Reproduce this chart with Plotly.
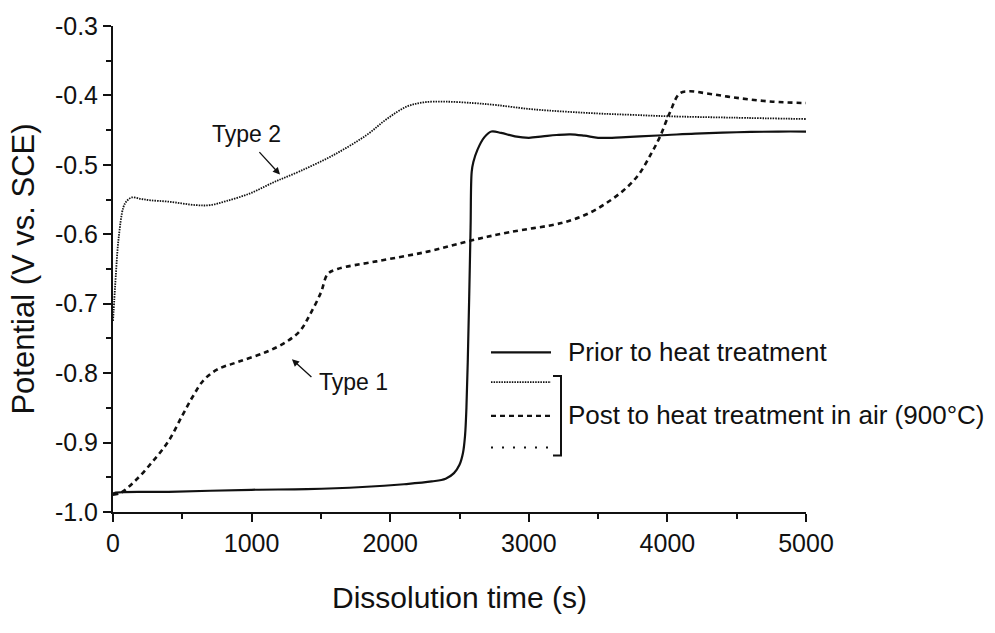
import plotly.graph_objects as go

# Open-circuit potential vs. dissolution time
# Prior to heat treatment (solid)
prior_t = [0, 5, 400, 1000, 1400, 1800, 2100, 2300, 2400, 2460, 2500, 2525, 2540, 2550,
           2560, 2570, 2580, 2588, 2600, 2630, 2680, 2730, 2800, 2900, 3000, 3100, 3200,
           3300, 3400, 3500, 3600, 3700, 3800, 4000, 4200, 4500, 4800, 5000]
prior_v = [-0.975, -0.973, -0.971, -0.968, -0.967, -0.964, -0.960, -0.956, -0.952, -0.944,
           -0.932, -0.915, -0.890, -0.850, -0.780, -0.690, -0.590, -0.510, -0.496, -0.478,
           -0.460, -0.452, -0.454, -0.459, -0.461, -0.459, -0.457, -0.456, -0.458, -0.461,
           -0.461, -0.460, -0.459, -0.457, -0.455, -0.453, -0.452, -0.452]

# Post heat treatment in air (900 °C), Type 2 (fine dotted)
type2_t = [0, 10, 20, 40, 75, 100, 135, 200, 270, 400, 600, 700, 820, 990, 1160, 1350,
           1590, 1830, 1975, 2120, 2240, 2400, 2600, 2770, 3030, 3500, 3750, 4000, 4470, 5000]
type2_v = [-0.725, -0.692, -0.660, -0.607, -0.561, -0.552, -0.547, -0.549, -0.551, -0.553,
           -0.558, -0.558, -0.552, -0.541, -0.525, -0.509, -0.486, -0.457, -0.434, -0.416,
           -0.410, -0.409, -0.411, -0.414, -0.420, -0.426, -0.428, -0.430, -0.432, -0.434]

# Post heat treatment in air (900 °C), Type 1 (dashed)
type1_t = [0, 50, 150, 275, 400, 500, 575, 650, 750, 900, 1100, 1250, 1350, 1420, 1500,
           1550, 1620, 1900, 2270, 2583, 2860, 3250, 3440, 3590, 3710, 3800, 3880, 3945,
           4017, 4089, 4160, 4280, 4520, 4760, 5000]
type1_v = [-0.975, -0.973, -0.957, -0.930, -0.898, -0.861, -0.834, -0.811, -0.795, -0.784,
           -0.770, -0.755, -0.739, -0.716, -0.684, -0.657, -0.650, -0.639, -0.625, -0.609,
           -0.597, -0.583, -0.569, -0.551, -0.532, -0.512, -0.485, -0.460, -0.425, -0.397,
           -0.394, -0.397, -0.404, -0.409, -0.411]

x_ticks = [0, 1000, 2000, 3000, 4000, 5000]
x_tick_text = ["0", "1000", "2000", "3000", "4000", "5000"]
x_minor = [500, 1500, 2500, 3500, 4500]
y_ticks = [-1.0, -0.9, -0.8, -0.7, -0.6, -0.5, -0.4, -0.3]
y_tick_text = ["-1.0", "-0.9", "-0.8", "-0.7", "-0.6", "-0.5", "-0.4", "-0.3"]
y_minor = [-0.95, -0.85, -0.75, -0.65, -0.55, -0.45, -0.35]

legend_prior = "Prior to heat treatment"
legend_post = "Post to heat treatment in air (900°C)"

FONT = "Arial, Liberation Sans, sans-serif"
BLACK = "#111111"

STYLE_PRIOR = dict(color=BLACK, width=2.2, dash="solid")
STYLE_TYPE2 = dict(color=BLACK, width=1.8, dash="1.5px,1.1px")
STYLE_TYPE1 = dict(color=BLACK, width=2.6, dash="5px,4px")
STYLE_OTHER = dict(color=BLACK, width=2.0, dash="2px,9px")

fig = go.Figure()
fig.add_trace(go.Scatter(x=prior_t, y=prior_v, mode="lines", line_shape="spline",
                         line=STYLE_PRIOR, showlegend=False))
fig.add_trace(go.Scatter(x=type2_t, y=type2_v, mode="lines", line_shape="spline",
                         line=STYLE_TYPE2, showlegend=False))
fig.add_trace(go.Scatter(x=type1_t, y=type1_v, mode="lines", line_shape="spline",
                         line=STYLE_TYPE1, showlegend=False))

axis_common = dict(
    showline=True, linecolor=BLACK, linewidth=2, mirror=False, showgrid=False,
    zeroline=False, ticks="outside", ticklen=8, tickwidth=2, tickcolor=BLACK,
    tickfont=dict(family=FONT, size=25, color=BLACK),
)

fig.update_layout(
    width=995, height=633,
    margin=dict(l=113, r=189, t=22, b=121),
    paper_bgcolor="white", plot_bgcolor="white",
    font=dict(family=FONT, color=BLACK),
    xaxis=dict(
        range=[0, 5000], tickmode="array", tickvals=x_ticks, ticktext=x_tick_text,
        minor=dict(ticks="outside", ticklen=5, tickwidth=2, tickcolor=BLACK,
                   tickmode="array", tickvals=x_minor),
        title=dict(text="Dissolution time (s)", font=dict(family=FONT, size=30, color=BLACK),
                   standoff=31),
        **axis_common,
    ),
    yaxis=dict(
        range=[-1.0, -0.3], tickmode="array", tickvals=y_ticks, ticktext=y_tick_text,
        minor=dict(ticks="outside", ticklen=5, tickwidth=2, tickcolor=BLACK,
                   tickmode="array", tickvals=y_minor),
        title=dict(text="Potential (V vs. SCE)", font=dict(family=FONT, size=31, color=BLACK),
                   standoff=11),
        **axis_common,
    ),
)

# Curve labels with arrows
fig.add_annotation(x=1205, y=-0.514, ax=-22, ay=-24, text="", showarrow=True,
                   arrowhead=2, arrowsize=1.1, arrowwidth=1.3, arrowcolor=BLACK)
fig.add_annotation(x=1205, y=-0.514, text="Type 2", showarrow=False,
                   xshift=-34, yshift=41, font=dict(family=FONT, size=23, color=BLACK))
fig.add_annotation(x=1291, y=-0.780, ax=21, ay=19, text="", showarrow=True,
                   arrowhead=2, arrowsize=1.1, arrowwidth=1.3, arrowcolor=BLACK)
fig.add_annotation(x=1291, y=-0.780, text="Type 1", showarrow=False, xanchor="left",
                   xshift=25, yshift=-23, font=dict(family=FONT, size=23, color=BLACK))

# Legend drawn in paper coordinates
W, H = 995 - 113 - 189, 633 - 22 - 121
def px(xp):
    return (xp - 113) / W
def py(yp):
    return (633 - 121 - yp) / H

samples = [
    (351, STYLE_PRIOR),
    (381, STYLE_TYPE2),
    (415, dict(STYLE_TYPE1, width=2.2)),
    (447, STYLE_OTHER),
]
for yp, ln in samples:
    fig.add_shape(type="line", xref="paper", yref="paper", x0=px(491), x1=px(551),
                  y0=py(yp), y1=py(yp), line=ln)

# bracket grouping the three post-treatment samples
fig.add_shape(type="path", xref="paper", yref="paper",
              path=f"M {px(553)},{py(375)} L {px(561)},{py(375)} L {px(561)},{py(455)} L {px(553)},{py(455)}",
              line=dict(color=BLACK, width=2))

fig.add_annotation(xref="paper", yref="paper", x=px(566), y=py(351), xanchor="left",
                   yanchor="middle", text=legend_prior, showarrow=False,
                   font=dict(family=FONT, size=26, color=BLACK))
fig.add_annotation(xref="paper", yref="paper", x=px(566), y=py(414), xanchor="left",
                   yanchor="middle", text=legend_post, showarrow=False,
                   font=dict(family=FONT, size=26, color=BLACK))

fig.write_html("out.html")
